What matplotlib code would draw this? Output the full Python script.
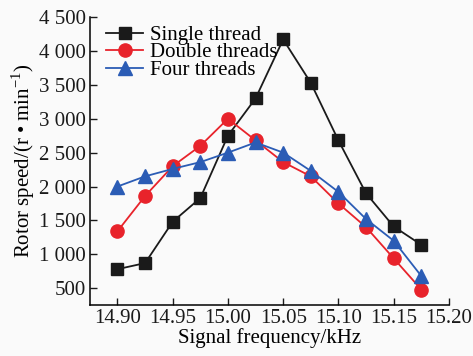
import matplotlib

matplotlib.use("Agg")
import matplotlib.pyplot as plt

plt.rcParams["font.family"] = ["Liberation Serif", "DejaVu Serif"]
plt.rcParams["mathtext.fontset"] = "custom"
plt.rcParams["mathtext.rm"] = "Liberation Serif"

freq = [14.900, 14.925, 14.950, 14.975, 15.000, 15.025,
        15.050, 15.075, 15.100, 15.125, 15.150, 15.175]
single = [780, 870, 1480, 1830, 2750, 3300, 4170, 3530, 2680, 1900, 1410, 1140]
double = [1340, 1860, 2300, 2600, 3000, 2680, 2360, 2150, 1750, 1400, 940, 480]
four = [2000, 2150, 2260, 2360, 2500, 2650, 2500, 2230, 1920, 1520, 1200, 680]

xticks = [14.90, 14.95, 15.00, 15.05, 15.10, 15.15, 15.20]
xtick_labels = ["14.90", "14.95", "15.00", "15.05", "15.10", "15.15", "15.20"]
yticks = [500, 1000, 1500, 2000, 2500, 3000, 3500, 4000, 4500]
ytick_labels = ["500", "1 000", "1 500", "2 000", "2 500", "3 000", "3 500", "4 000", "4 500"]

fig = plt.figure(figsize=(4.73, 3.56), dpi=100, facecolor="#fafafa")
ax = fig.add_axes([0.190, 0.143, 0.759, 0.809])
ax.set_facecolor("#fafafa")

ax.plot(freq, single, color="#1a1a1a", marker="s", markersize=8.5, lw=1.3, label="Single thread")
ax.plot(freq, double, color="#e8232b", marker="o", markersize=9.5, lw=1.3, label="Double threads")
ax.plot(freq, four, color="#2b5cb5", marker="^", markersize=9.5, lw=1.3, label="Four threads")

ax.set_xlim(14.875, 15.20)
ax.set_ylim(250, 4500)
ax.set_xticks(xticks, xtick_labels)
ax.set_yticks(yticks, ytick_labels)
ax.tick_params(direction="in", labelsize=15, length=5, width=1, colors="#1a1a1a", pad=3)
for side in ("top", "right"):
    ax.spines[side].set_visible(False)
for side in ("left", "bottom"):
    ax.spines[side].set_linewidth(1.1)

ax.set_xlabel("Signal frequency/kHz", fontsize=15, labelpad=0)
ax.set_ylabel("Rotor speed/(r \u2022 min$^{-1}$)", fontsize=15, labelpad=1)

ax.legend(loc="upper left", bbox_to_anchor=(0.01, 1.015), frameon=False, fontsize=15,
          handlelength=1.8, handletextpad=0.3, labelspacing=-0.1, borderaxespad=0.2)

fig.savefig("out.png", dpi=100, facecolor=fig.get_facecolor())
